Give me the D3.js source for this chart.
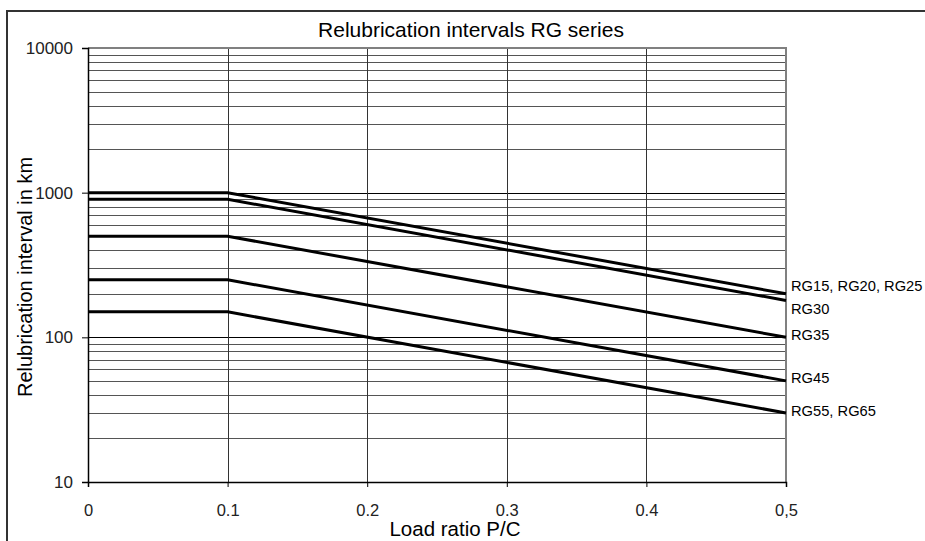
<!DOCTYPE html>
<html>
<head>
<meta charset="utf-8">
<script src="https://cdn.jsdelivr.net/npm/d3@7"></script>
<style>
  body { margin: 0; background: #fff; }
  svg { display: block; font-family: "Liberation Sans", Arial, sans-serif; }
</style>
</head>
<body>
<svg></svg>
<script>
// load ratio points where the curves break
const loadRatios = [0, 0.1, 0.5]

const seriesNames = ["RG15, RG20, RG25", "RG30", "RG35", "RG45", "RG55, RG65"]
const rg15Values = [1000, 1000, 200]
const rg30Values = [900, 900, 180]
const rg35Values = [500, 500, 100]
const rg45Values = [250, 250, 50]
const rg55Values = [150, 150, 30]

const xTicks = [0, 0.1, 0.2, 0.3, 0.4, 0.5]
const xTickLabels = ["0", "0.1", "0.2", "0.3", "0.4", "0,5"]
const yTicks = [10, 100, 1000, 10000]

const series = [rg15Values, rg30Values, rg35Values, rg45Values, rg55Values]
  .map((vals, i) => ({ name: seriesNames[i], values: vals }))

// baseline nudges for the end labels (so they don't collide)
const labelDy = [-3, 13.5, 2.5, 2, 3.5]

const svg = d3.select("svg")
  .attr("width", 925)
  .attr("height", 541)

// outer frame
svg.append("rect")
  .attr("x", 7)
  .attr("y", 11)
  .attr("width", 940)
  .attr("height", 560)
  .attr("fill", "none")
  .attr("stroke", "#333")
  .attr("stroke-width", 2)

const x = d3.scaleLinear()
  .domain([0, 0.5])
  .range([88, 786])

const y = d3.scaleLog()
  .domain([10, 10000])
  .range([482, 48])

// minor horizontal grid
const minorValues = []
for (let dec = 10; dec < 10000; dec *= 10) {
  for (let k = 2; k <= 9; k++) minorValues.push(dec * k)
}

const grid = svg.append("g").attr("class", "grid")

grid.selectAll("line.minor")
  .data(minorValues)
  .enter()
  .append("line")
  .attr("class", "minor")
  .attr("x1", x(0))
  .attr("x2", x(0.5))
  .attr("y1", d => Math.round(y(d)) + 0.5)
  .attr("y2", d => Math.round(y(d)) + 0.5)
  .attr("stroke", "#555")
  .attr("stroke-width", 1)

grid.selectAll("line.major")
  .data([100, 1000])
  .enter()
  .append("line")
  .attr("class", "major")
  .attr("x1", x(0))
  .attr("x2", x(0.5))
  .attr("y1", d => Math.round(y(d)) + 0.5)
  .attr("y2", d => Math.round(y(d)) + 0.5)
  .attr("stroke", "#000")
  .attr("stroke-width", 1)

grid.selectAll("line.vert")
  .data([0.1, 0.2, 0.3, 0.4])
  .enter()
  .append("line")
  .attr("class", "vert")
  .attr("x1", d => Math.round(x(d)) + 0.5)
  .attr("x2", d => Math.round(x(d)) + 0.5)
  .attr("y1", y(10000))
  .attr("y2", y(10))
  .attr("stroke", "#333")
  .attr("stroke-width", 1)

// plot border (top + right)
svg.append("path")
  .attr("d", `M${x(0)},${y(10000)}H${x(0.5)}V${y(10)}`)
  .attr("fill", "none")
  .attr("stroke", "#808080")
  .attr("stroke-width", 2)

// axes
const yAxis = d3.axisLeft(y)
  .tickValues(yTicks)
  .tickFormat(d3.format("d"))
  .tickSize(6)
  .tickPadding(9)

const xAxis = d3.axisBottom(x)
  .tickValues(xTicks)
  .tickFormat((d, i) => xTickLabels[i])
  .tickSize(5)
  .tickPadding(17)

const yAxisG = svg.append("g")
  .attr("transform", `translate(${x(0)}, 0)`)
  .call(yAxis)

const xAxisG = svg.append("g")
  .attr("transform", `translate(0, ${y(10)})`)
  .call(xAxis)

yAxisG
  .attr("font-size", 17)
  .attr("font-family", "'Liberation Sans', Arial, sans-serif")
xAxisG
  .attr("font-size", 16.5)
  .attr("font-family", "'Liberation Sans', Arial, sans-serif")

yAxisG.select(".domain").attr("stroke", "#000").attr("stroke-width", 1.5)
xAxisG.select(".domain").attr("stroke", "#000").attr("stroke-width", 1.5)
svg.selectAll(".tick line").attr("stroke", "#000")
svg.selectAll(".tick text").attr("fill", "#222")

// series lines
const line = d3.line()
  .x((d, i) => x(loadRatios[i]))
  .y(d => y(d))

svg.append("g")
  .attr("class", "series")
  .selectAll("path")
  .data(series)
  .enter()
  .append("path")
  .attr("d", d => line(d.values))
  .attr("fill", "none")
  .attr("stroke", "#000")
  .attr("stroke-width", 3)

svg.append("g")
  .attr("class", "labels")
  .selectAll("text")
  .data(series)
  .enter()
  .append("text")
  .attr("x", x(0.5) + 5)
  .attr("y", (d, i) => y(d.values[d.values.length - 1]) + labelDy[i])
  .style("font-size", "14.7px")
  .attr("fill", "#000")
  .text(d => d.name)

// titles
svg.append("text")
  .attr("x", 471)
  .attr("y", 37)
  .attr("text-anchor", "middle")
  .style("font-size", "21px")
  .text("Relubrication intervals RG series")

svg.append("text")
  .attr("transform", "translate(32, 277) rotate(-90)")
  .attr("text-anchor", "middle")
  .style("font-size", "20px")
  .text("Relubrication interval in km")

svg.append("text")
  .attr("x", 455)
  .attr("y", 536)
  .attr("text-anchor", "middle")
  .style("font-size", "20.5px")
  .text("Load ratio P/C")
</script>
</body>
</html>
